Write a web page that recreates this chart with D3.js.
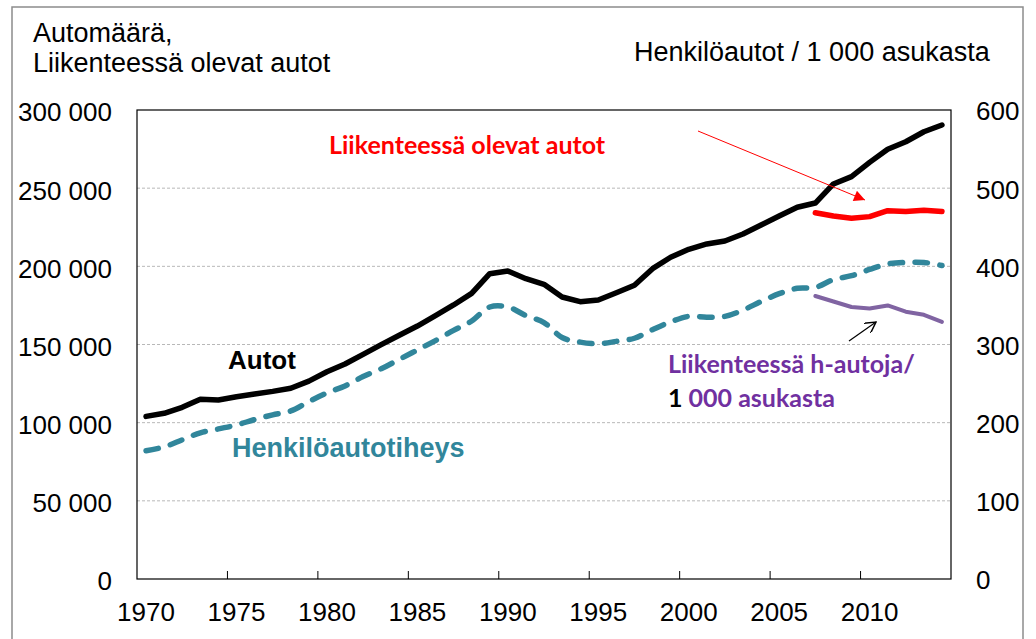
<!DOCTYPE html>
<html>
<head>
<meta charset="utf-8">
<script src="https://cdn.jsdelivr.net/npm/d3@7"></script>
<style>
  body { margin: 0; background: #fff; }
  text { font-family: "Liberation Sans", Arial, sans-serif; }
  .calib { font-family: Lato, "Open Sans", sans-serif; font-weight: bold; }
</style>
</head>
<body>
<div id="chart"></div>
<script>
// vuodet 1970-2014
var years = d3.range(1970, 2015);

// Autot (vasen akseli)
var autot = [104000, 106000, 109800, 115000, 114500, 116600, 118300, 120000, 122000, 126600,
             132600, 137500, 143700, 149900, 155900, 161800, 168400, 175300, 182700, 195300,
             197000, 192100, 188500, 180400, 177400, 178500, 183100, 187900, 198500, 205800,
             210900, 214300, 216200, 220700, 226400, 232200, 237800, 240500, 252700, 257400,
             266500, 274900, 279700, 286100, 290400];

// Henkilöautotiheys, henkilöautoja / 1 000 asukasta (oikea akseli)
var tiheys = [164, 169, 178, 187, 192, 197, 204, 210, 215, 227,
              238, 247, 259, 269, 281, 293, 305, 318, 330, 348,
              348, 337, 328, 309, 303, 301, 304, 308, 319, 329,
              336, 335, 336, 344, 355, 365, 372, 373, 383, 388,
              396, 403, 405, 405, 401];

// Liikenteessä olevat autot (vasen akseli), 2007-2014
var liikYears = d3.range(2007, 2015);
var liikAutot = [234300, 232200, 230700, 231800, 235600, 235000, 235800, 235000];

// Liikenteessä h-autoja / 1 000 asukasta (oikea akseli), 2007-2014
var liikTiheys = [362, 355, 348, 346, 350, 342, 338, 329];

var leftTicks = [0, 50000, 100000, 150000, 200000, 250000, 300000];
var rightTicks = [0, 100, 200, 300, 400, 500, 600];
var xTicks = [1970, 1975, 1980, 1985, 1990, 1995, 2000, 2005, 2010];

var W = 1036, H = 639;
var margin = {top: 110, right: 85, bottom: 60, left: 137};
var width = W - margin.left - margin.right,
    height = H - margin.top - margin.bottom;

var svg = d3.select("#chart").append("svg")
    .attr("width", W)
    .attr("height", H);

// kehys
svg.append("rect")
    .attr("x", 12).attr("y", 7)
    .attr("width", 1011).attr("height", 700)
    .attr("fill", "none")
    .attr("stroke", "#8c8c8c")
    .attr("stroke-width", 1.5);

var g = svg.append("g")
    .attr("transform", "translate(" + margin.left + "," + margin.top + ")");

var x = d3.scaleBand().domain(years).range([0, width]);
var cx = function (yr) { return x(yr) + x.bandwidth() / 2; };

var yL = d3.scaleLinear().domain([0, 300000]).range([height, 0]);
var yR = d3.scaleLinear().domain([0, 600]).range([height, 0]);

var fmt = d3.formatLocale({decimal: ",", thousands: " ", grouping: [3], currency: ["", " €"]}).format(",d");

// apuviivat
g.selectAll(".grid")
    .data(leftTicks.filter(function (d) { return d > 0 && d < 300000; }))
    .enter().append("line")
    .attr("x1", 0).attr("x2", width)
    .attr("y1", function (d) { return yL(d); })
    .attr("y2", function (d) { return yL(d); })
    .attr("stroke", "#b8b8b8")
    .attr("stroke-width", 1)
    .attr("stroke-dasharray", "3,2");

// kuvaalueen reunat
g.append("rect")
    .attr("width", width).attr("height", height)
    .attr("fill", "none")
    .attr("stroke", "#000")
    .attr("stroke-width", 1.2);

// akselit
var axL = g.append("g")
    .call(d3.axisLeft(yL).tickValues(leftTicks).tickSize(0).tickPadding(25).tickFormat(fmt));
var axR = g.append("g")
    .attr("transform", "translate(" + width + ",0)")
    .call(d3.axisRight(yR).tickValues(rightTicks).tickSize(0).tickPadding(25));
var axB = g.append("g")
    .attr("transform", "translate(0," + height + ")")
    .call(d3.axisBottom(x).tickValues(xTicks).tickSize(0).tickPadding(24));

[axL, axR, axB].forEach(function (a) {
  a.select(".domain").remove();
  a.selectAll("text")
      .attr("fill", "#000")
      .style("font-family", "'Liberation Sans', Arial, sans-serif")
      .style("font-size", "26px");
});
axL.selectAll("text").attr("dy", "0.42em");
axR.selectAll("text").attr("dy", "0.38em");

// x-akselin jakoviivat (sisäänpäin)
g.selectAll(".xtick")
    .data(xTicks.filter(function (d) { return d > 1970; }))
    .enter().append("line")
    .attr("x1", function (d) { return x(d); })
    .attr("x2", function (d) { return x(d); })
    .attr("y1", height).attr("y2", height - 8)
    .attr("stroke", "#000")
    .attr("stroke-width", 1);

// viivat
var lineL = function (xs) {
  return d3.line()
      .x(function (d, i) { return cx(xs[i]); })
      .y(function (d) { return yL(d); });
};
var lineR = function (xs) {
  return d3.line()
      .x(function (d, i) { return cx(xs[i]); })
      .y(function (d) { return yR(d); });
};

g.append("path")
    .datum(tiheys)
    .attr("d", lineR(years).curve(d3.curveCatmullRom.alpha(0.5)))
    .attr("fill", "none")
    .attr("stroke", "#31869b")
    .attr("stroke-width", 5.5)
    .attr("stroke-linecap", "round")
    .attr("stroke-dasharray", "12.5,12.5");

g.append("path")
    .datum(autot)
    .attr("d", lineL(years))
    .attr("fill", "none")
    .attr("stroke", "#000")
    .attr("stroke-width", 5.5)
    .attr("stroke-linejoin", "round")
    .attr("stroke-linecap", "round");

g.append("path")
    .datum(liikAutot)
    .attr("d", lineL(liikYears))
    .attr("fill", "none")
    .attr("stroke", "#ff0000")
    .attr("stroke-width", 5.5)
    .attr("stroke-linejoin", "round")
    .attr("stroke-linecap", "round");

g.append("path")
    .datum(liikTiheys)
    .attr("d", lineR(liikYears))
    .attr("fill", "none")
    .attr("stroke", "#8064a2")
    .attr("stroke-width", 4)
    .attr("stroke-linejoin", "round")
    .attr("stroke-linecap", "round");

// nuolenkärjet
var defs = svg.append("defs");
defs.append("marker")
    .attr("id", "redhead")
    .attr("viewBox", "0 0 10 10")
    .attr("refX", 10).attr("refY", 5)
    .attr("markerWidth", 15).attr("markerHeight", 11)
    .attr("markerUnits", "userSpaceOnUse")
    .attr("orient", "auto")
    .append("path")
    .attr("d", "M0,0 L10,5 L0,10 Z")
    .attr("fill", "#ff0000");
defs.append("marker")
    .attr("id", "openhead")
    .attr("viewBox", "0 0 10 10")
    .attr("refX", 9).attr("refY", 5)
    .attr("markerWidth", 12).attr("markerHeight", 12)
    .attr("markerUnits", "userSpaceOnUse")
    .attr("orient", "auto")
    .append("path")
    .attr("d", "M0,0 L9,5 L0,10")
    .attr("fill", "none")
    .attr("stroke", "#000")
    .attr("stroke-width", 1.2);

svg.append("line")
    .attr("x1", 698).attr("y1", 131)
    .attr("x2", 865).attr("y2", 200)
    .attr("stroke", "#ff0000")
    .attr("stroke-width", 1)
    .attr("marker-end", "url(#redhead)");

svg.append("line")
    .attr("x1", 849).attr("y1", 341)
    .attr("x2", 876).attr("y2", 322)
    .attr("stroke", "#000")
    .attr("stroke-width", 1.2)
    .attr("marker-end", "url(#openhead)");

// otsikot
svg.append("text").attr("x", 33).attr("y", 42)
    .style("font-size", "27px").text("Automäärä,");
svg.append("text").attr("x", 33).attr("y", 72)
    .style("font-size", "27px").text("Liikenteessä olevat autot");
svg.append("text").attr("x", 634).attr("y", 61)
    .style("font-size", "27px").text("Henkilöautot / 1 000 asukasta");

// sarjojen nimet
svg.append("text").attr("x", 228).attr("y", 369)
    .style("font-size", "26px").style("font-weight", "bold")
    .text("Autot");
svg.append("text").attr("x", 232).attr("y", 457)
    .style("font-size", "27px").style("font-weight", "bold")
    .attr("fill", "#31869b")
    .text("Henkilöautotiheys");
svg.append("text").attr("class", "calib").attr("x", 329).attr("y", 154)
    .style("font-size", "25px")
    .attr("fill", "#ff0000")
    .text("Liikenteessä olevat autot");
svg.append("text").attr("class", "calib").attr("x", 668).attr("y", 373)
    .style("font-size", "25px")
    .attr("fill", "#7030a0")
    .text("Liikenteessä h-autoja/");
var t2 = svg.append("text").attr("class", "calib").attr("x", 668).attr("y", 407)
    .style("font-size", "25px");
t2.append("tspan").attr("fill", "#000").text("1");
t2.append("tspan").attr("fill", "#7030a0").text(" 000 asukasta");
</script>
</body>
</html>
